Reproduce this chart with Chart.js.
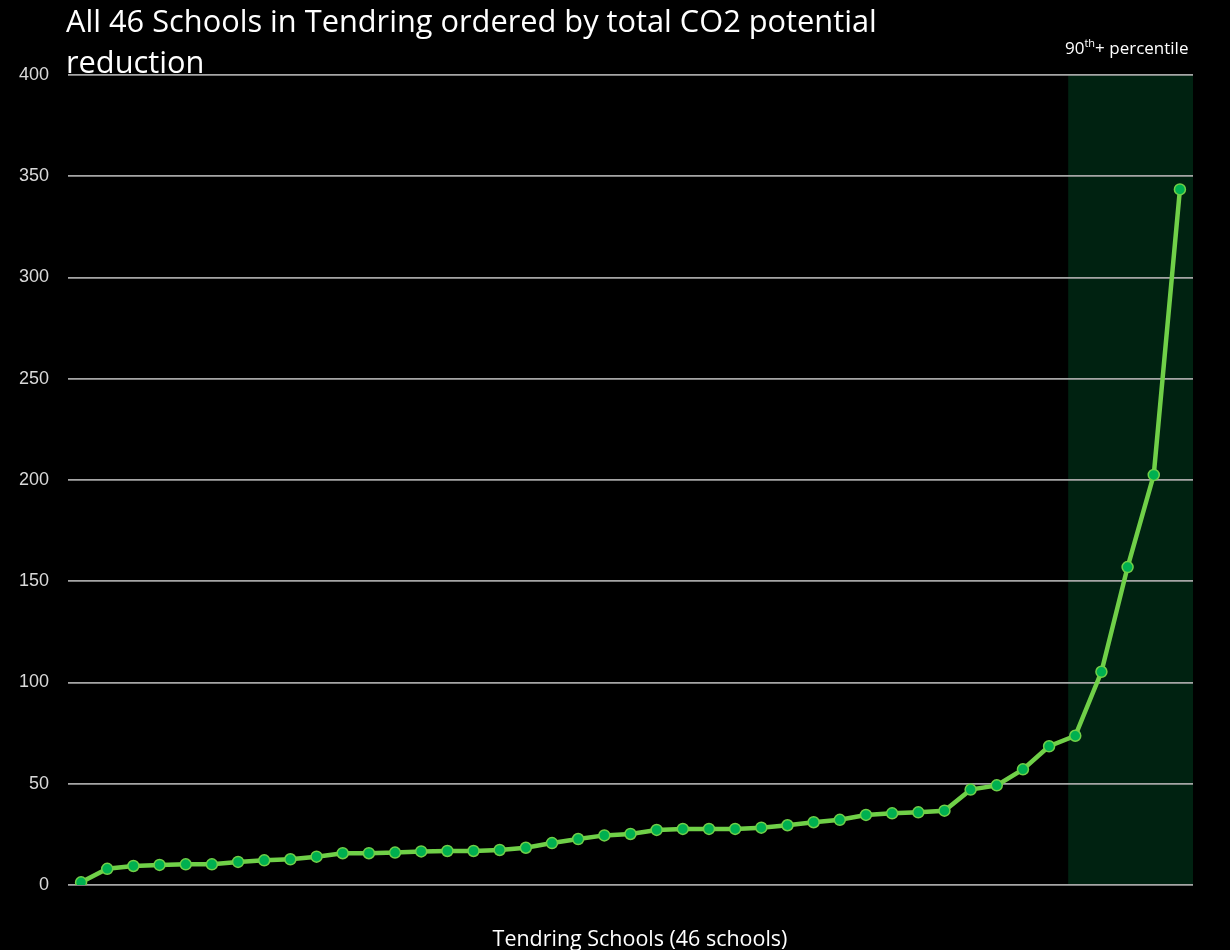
<!DOCTYPE html>
<html>
<head>
<meta charset="utf-8">
<title>Tendring schools CO2 reduction</title>
<script src="https://cdn.jsdelivr.net/npm/chart.js@4.4.0/dist/chart.umd.min.js"></script>
<style>
  html, body { margin: 0; padding: 0; background: #000; }
  canvas { display: block; }
</style>
</head>
<body>
<canvas id="co2Chart" width="1230" height="950"></canvas>
<script>
// Schools ranked from lowest to highest total CO2 potential reduction
const schoolLabels = []
const co2Reduction = [
  1.3, 8.0, 9.4, 9.9, 10.2, 10.2, 11.4, 12.2, 12.7, 14.0,
  15.7, 15.7, 16.0, 16.6, 16.8, 16.8, 17.3, 18.4, 20.7, 22.7,
  24.5, 25.2, 27.2, 27.7, 27.7, 27.7, 28.3, 29.5, 31.0, 32.2,
  34.6, 35.4, 35.9, 36.7, 47.1, 49.2, 57.1, 68.5, 73.7, 105.3,
  157, 202.5, 343.5,
]
for (let i = 0; i < co2Reduction.length; i++) schoolLabels.push("School " + (i + 1))

const yTicks = [0, 50, 100, 150, 200, 250, 300, 350, 400]
const titleLines = ["All 46 Schools in Tendring ordered by total CO2 potential", "reduction"]
const xTitle = "Tendring Schools (46 schools)"
// start of the 90th+ percentile band, in category units
const percentileStart = 37.73

// sets a font size that makes the text fit the wanted width
function fitText(ctx, text, family, maxSize, width) {
  ctx.font = maxSize + "px " + family
  const w = ctx.measureText(text).width
  const size = Math.min(maxSize, maxSize * width / w)
  ctx.font = size + "px " + family
  return size
}

const backgroundPlugin = {
  id: "background",
  beforeDraw(chart) {
    const { ctx, chartArea, scales } = chart
    ctx.save()
    ctx.fillStyle = "#000000"
    ctx.fillRect(0, 0, chart.width, chart.height)
    // shaded percentile band
    const left = scales.x.getPixelForValue(percentileStart)
    const top = scales.y.getPixelForValue(400)
    const bottom = scales.y.getPixelForValue(0)
    ctx.fillStyle = "#002211"
    ctx.fillRect(left, top, chartArea.right - left, bottom - top)
    ctx.restore()
  },
}

const textPlugin = {
  id: "texts",
  afterDraw(chart) {
    const { ctx } = chart
    const family = "'Open Sans', sans-serif"
    ctx.save()
    ctx.fillStyle = "#ffffff"
    ctx.textBaseline = "alphabetic"
    ctx.textAlign = "left"

    // chart title, two lines
    fitText(ctx, titleLines[0], family, 31, 811)
    ctx.fillText(titleLines[0], 66, 32)
    ctx.fillText(titleLines[1], 66, 73)

    // 90th+ percentile label
    let x = 1065
    ctx.font = "17px " + family
    ctx.fillText("90", x, 54)
    x += ctx.measureText("90").width
    ctx.font = "11px " + family
    ctx.fillText("th", x, 47)
    x += ctx.measureText("th").width
    ctx.font = "17px " + family
    ctx.fillText("+ percentile", x, 54)

    // x axis title
    ctx.textAlign = "center"
    fitText(ctx, xTitle, family, 26, 295)
    ctx.fillText(xTitle, 640, 946)
    ctx.restore()
  },
}

new Chart(document.getElementById("co2Chart"), {
  type: "line",
  data: {
    labels: schoolLabels,
    datasets: [
      {
        label: "Total CO2 potential reduction",
        data: co2Reduction,
        borderColor: "#70d048",
        borderWidth: 4.5,
        pointBackgroundColor: "#00b050",
        pointBorderColor: "#70d048",
        pointBorderWidth: 1.5,
        pointRadius: 5.5,
        tension: 0,
        fill: false,
      },
    ],
  },
  options: {
    responsive: false,
    animation: false,
    layout: {
      padding: { top: 75, right: 37, bottom: 65, left: 0 },
    },
    plugins: {
      legend: { display: false },
      title: { display: false },
      tooltip: { enabled: false },
    },
    scales: {
      x: {
        offset: true,
        grid: { display: false, drawTicks: false },
        border: { display: false },
        ticks: { display: false },
      },
      y: {
        min: 0,
        max: 400,
        afterFit(scale) {
          scale.width = 68
        },
        afterBuildTicks(scale) {
          scale.ticks = yTicks.map((v) => ({ value: v }))
        },
        grid: {
          color: "#a6a6a6",
          lineWidth: 1.8,
          drawTicks: false,
        },
        border: { display: false },
        ticks: {
          color: "#d9d9d9",
          padding: 19,
          font: { family: "'Liberation Sans', Arial, sans-serif", size: 18 },
        },
      },
    },
  },
  plugins: [backgroundPlugin, textPlugin],
})
</script>
</body>
</html>
